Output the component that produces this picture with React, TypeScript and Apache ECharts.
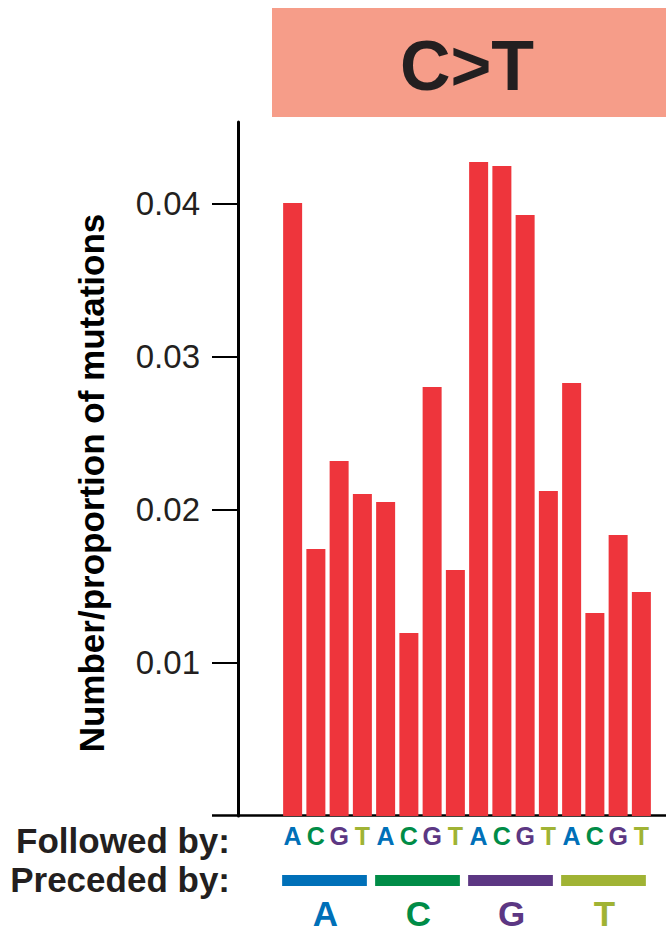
import React, { useEffect, useRef } from "react";
import * as echarts from "echarts";

const followedBy = ["A", "C", "G", "T", "A", "C", "G", "T", "A", "C", "G", "T", "A", "C", "G", "T"];
const proportions = [
  0.04007, 0.01745, 0.0232, 0.02105, 0.02052, 0.01196, 0.02804, 0.01608,
  0.04275, 0.04248, 0.03928, 0.02124, 0.0283, 0.01327, 0.01837, 0.01464,
];
const precededBy = ["A", "C", "G", "T"];
const precededStart = [0, 4, 8, 12];
const precededEnd = [3, 7, 11, 15];
const yTicks = [0.01, 0.02, 0.03, 0.04];
const yTickLabels = ["0.01", "0.02", "0.03", "0.04"];
const baseColors: Record<string, string> = {
  A: "#0070B8",
  C: "#008C47",
  G: "#5C3783",
  T: "#A0B334",
};
const titleText = "C>T";
const yName = "Number/proportion of mutations";

export default function App() {
  const ref = useRef<HTMLDivElement>(null);
  useEffect(() => {
    if (!ref.current) return;
    const chart = echarts.init(ref.current, undefined, { renderer: "svg" });
    const rich: Record<string, any> = {};
    Object.keys(baseColors).forEach((k) => {
      rich[k] = {
        color: baseColors[k],
        fontSize: 25,
        fontWeight: "bold",
        fontFamily: "Arial, Liberation Sans, sans-serif",
      };
    });
    const option: any = {
      animation: false,
      backgroundColor: "#ffffff",
      grid: { left: 281, right: 13, top: 122, bottom: 116 },
      xAxis: {
        type: "category",
        data: followedBy.map((b, i) => b + "_" + i),
        axisLine: { show: false },
        axisTick: { show: false },
        axisLabel: {
          interval: 0,
          margin: 7,
          formatter: (v: string) => {
            const b = v.split("_")[0];
            return `{${b}|${b}}`;
          },
          rich,
        },
      },
      yAxis: {
        type: "value",
        min: 0,
        max: 0.045359,
        offset: 43,
        splitLine: { show: false },
        axisLine: { show: true, lineStyle: { color: "#000", width: 3 } },
        axisTick: {
          show: true,
          length: 26,
          lineStyle: { color: "#000", width: 2 },
          customValues: yTicks,
        },
        axisLabel: {
          margin: 38,
          color: "#231F20",
          fontSize: 33,
          fontFamily: "Arial, Liberation Sans, sans-serif",
          customValues: yTicks,
          formatter: (v: number) => {
            const i = yTicks.findIndex((t) => Math.abs(t - v) < 1e-9);
            return i >= 0 ? yTickLabels[i] : "";
          },
        },
      },
      series: [
        {
          type: "bar",
          data: proportions,
          barWidth: 19,
          itemStyle: { color: "#EE353C" },
        },
        {
          type: "custom",
          clip: false,
          silent: true,
          data: precededBy.map((b, i) => [precededStart[i], precededEnd[i], i]),
          encode: { x: [0, 1] },
          renderItem: (params: any, api: any) => {
            const s = api.coord([api.value(0), 0]);
            const e = api.coord([api.value(1), 0]);
            const idx = api.value(2);
            const letter = precededBy[idx];
            const color = baseColors[letter];
            return {
              type: "group",
              children: [
                {
                  type: "rect",
                  shape: { x: s[0] - 10.5, y: s[1] + 59, width: e[0] - s[0] + 15, height: 11 },
                  style: { fill: color },
                },
                {
                  type: "text",
                  style: {
                    text: letter,
                    x: (s[0] + e[0]) / 2 - 2,
                    y: s[1] + 97,
                    align: "center",
                    verticalAlign: "middle",
                    fill: color,
                    fontSize: 35,
                    fontWeight: "bold",
                    fontFamily: "Arial, Liberation Sans, sans-serif",
                  },
                },
              ],
            };
          },
        },
      ],
      graphic: [
        {
          type: "rect",
          shape: { x: 272, y: 8, width: 394, height: 109 },
          style: { fill: "#F69D89" },
          silent: true,
        },
        {
          type: "text",
          x: 467,
          y: 66,
          style: {
            text: titleText,
            align: "center",
            verticalAlign: "middle",
            fill: "#231F20",
            fontSize: 70,
            fontWeight: "bold",
            fontFamily: "Arial, Liberation Sans, sans-serif",
          },
        },
        {
          type: "line",
          shape: { x1: 212, y1: 815.5, x2: 666, y2: 815.5 },
          style: { stroke: "#000", lineWidth: 2.5 },
        },
        {
          type: "text",
          x: 91,
          y: 483,
          rotation: Math.PI / 2,
          style: {
            text: yName,
            align: "center",
            verticalAlign: "middle",
            fill: "#000",
            fontSize: 35,
            fontWeight: "bold",
            fontFamily: "Arial, Liberation Sans, sans-serif",
          },
        },
        {
          type: "text",
          x: 230,
          y: 840,
          style: {
            text: "Followed by:",
            align: "right",
            verticalAlign: "middle",
            fill: "#231F20",
            fontSize: 35,
            fontWeight: "bold",
            fontFamily: "Arial, Liberation Sans, sans-serif",
          },
        },
        {
          type: "text",
          x: 230,
          y: 879,
          style: {
            text: "Preceded by:",
            align: "right",
            verticalAlign: "middle",
            fill: "#231F20",
            fontSize: 35,
            fontWeight: "bold",
            fontFamily: "Arial, Liberation Sans, sans-serif",
          },
        },
      ],
    };
    chart.setOption(option);
    return () => chart.dispose();
  }, []);
  return (
    <div
      ref={ref}
      style={{ position: "fixed", left: 0, top: 0, width: 666, height: 932 }}
    />
  );
}
